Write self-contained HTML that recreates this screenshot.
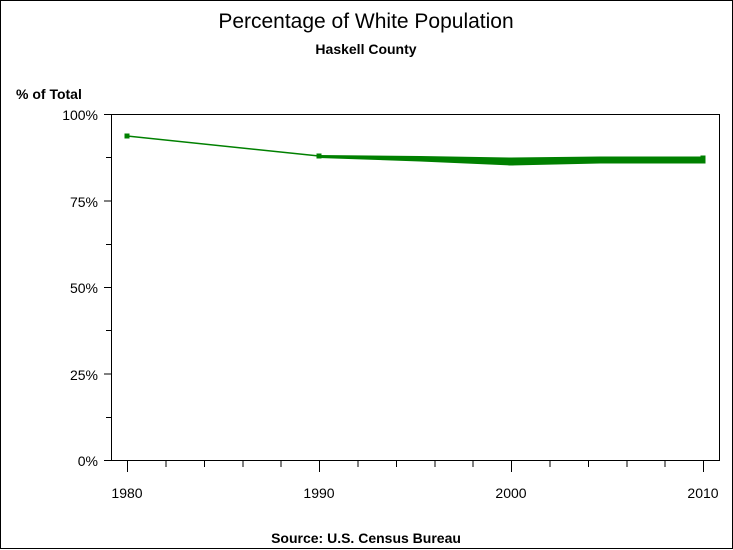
<!DOCTYPE html>
<html><head><meta charset="utf-8"><style>
html,body{margin:0;padding:0;background:#fff;}
svg{display:block;}
text{font-family:"Liberation Sans",Arial,sans-serif;fill:#000;}
</style></head><body>
<svg width="733" height="550" viewBox="0 0 733 550" xmlns="http://www.w3.org/2000/svg">
<rect x="0.5" y="0.5" width="732" height="548" fill="#fff" stroke="#000" stroke-width="1"/>
<text x="366" y="28" font-size="21" text-anchor="middle">Percentage of White Population</text>
<text x="366" y="54" font-size="14" font-weight="bold" text-anchor="middle">Haskell County</text>
<text x="16" y="99" font-size="14" font-weight="bold">% of Total</text>
<rect x="111.5" y="114.5" width="608" height="346" fill="none" stroke="#000" stroke-width="1"/>
<g stroke="#000" stroke-width="1">
<line x1="104" y1="114.5" x2="111" y2="114.5"/>
<line x1="104" y1="201" x2="111" y2="201"/>
<line x1="104" y1="287.5" x2="111" y2="287.5"/>
<line x1="104" y1="374" x2="111" y2="374"/>
<line x1="104" y1="460.5" x2="111" y2="460.5"/>
<line x1="106" y1="157.5" x2="111" y2="157.5"/>
<line x1="106" y1="244.5" x2="111" y2="244.5"/>
<line x1="106" y1="330.5" x2="111" y2="330.5"/>
<line x1="106" y1="417.5" x2="111" y2="417.5"/>
<line x1="127.5" y1="461" x2="127.5" y2="472"/>
<line x1="319.5" y1="461" x2="319.5" y2="472"/>
<line x1="511.5" y1="461" x2="511.5" y2="472"/>
<line x1="703.5" y1="461" x2="703.5" y2="472"/>
<line x1="166" y1="461" x2="166" y2="467"/>
<line x1="204.5" y1="461" x2="204.5" y2="467"/>
<line x1="243" y1="461" x2="243" y2="467"/>
<line x1="281" y1="461" x2="281" y2="467"/>
<line x1="358" y1="461" x2="358" y2="467"/>
<line x1="396.5" y1="461" x2="396.5" y2="467"/>
<line x1="435" y1="461" x2="435" y2="467"/>
<line x1="473" y1="461" x2="473" y2="467"/>
<line x1="550" y1="461" x2="550" y2="467"/>
<line x1="588.5" y1="461" x2="588.5" y2="467"/>
<line x1="627" y1="461" x2="627" y2="467"/>
<line x1="665" y1="461" x2="665" y2="467"/>
</g>
<g font-size="14" text-anchor="end">
<text x="98" y="120">100%</text>
<text x="98" y="207">75%</text>
<text x="98" y="293">50%</text>
<text x="98" y="380">25%</text>
<text x="98" y="466">0%</text>
</g>
<g font-size="14" text-anchor="middle">
<text x="127" y="498">1980</text>
<text x="319" y="498">1990</text>
<text x="511" y="498">2000</text>
<text x="703" y="498">2010</text>
</g>
<text x="366" y="543" font-size="14" font-weight="bold" text-anchor="middle">Source: U.S. Census Bureau</text>
<g fill="#008000" stroke="#008000">
<polyline points="127,136 319,156" fill="none" stroke-width="1.5"/>
<polygon points="319,155.5 420,156.5 511,158 600,157 703,157 703,163 600,163 511,165 420,161 319,157.5" stroke-width="1"/>
<rect x="125" y="134" width="4" height="4"/>
<rect x="317" y="154" width="4" height="4"/>
<rect x="509" y="158" width="4" height="7"/>
<rect x="701" y="156" width="4" height="7"/>
</g>
</svg>
</body></html>
